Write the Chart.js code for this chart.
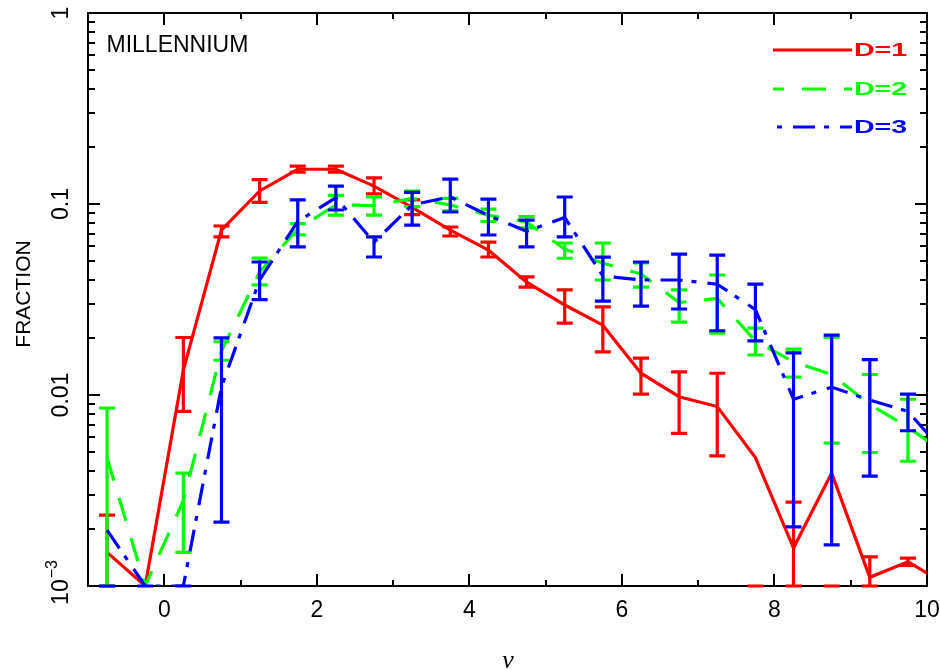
<!DOCTYPE html>
<html>
<head>
<meta charset="utf-8">
<title>FRACTION vs nu</title>
<script src="https://cdn.jsdelivr.net/npm/chart.js@4.4.0/dist/chart.umd.min.js"></script>
<style>
  html, body { margin: 0; padding: 0; background: #ffffff; }
  #wrap { width: 940px; height: 670px; }
</style>
</head>
<body>
<div id="wrap"><canvas id="chart" width="940" height="670"></canvas></div>
<script>
// Bin centres in nu (the last bin lies just past the right edge of the axis)
const nu = [-0.75, -0.25, 0.25, 0.75, 1.25, 1.75, 2.25, 2.75, 3.25, 3.75, 4.25, 4.75,
            5.25, 5.75, 6.25, 6.75, 7.25, 7.75, 8.25, 8.75, 9.25, 9.75, 10.25];

// D=1
const fracD1 = [0.0015, 0.001, 0.0135, 0.073, 0.117, 0.152, 0.152, 0.124, 0.096, 0.073, 0.0574, 0.039,
                0.0296, 0.0232, 0.0130, 0.0098, 0.0087, 0.0047, 0.00158, 0.0039, 0.00111, 0.00134, 0.00102];
// error bar ends; 0 = below the plotted range, null = no bar
const loD1 = [0, null, 0.0082, 0.0672, 0.102, 0.147, 0.147, 0.113, 0.088, 0.068, 0.0528, 0.0367,
              0.0238, 0.0168, 0.0101, 0.0063, 0.0048, 0, 0, 0, 0, 0.00128, null];
const hiD1 = [0.00235, null, 0.020, 0.0767, 0.134, 0.158, 0.158, 0.137, 0.105, 0.0758, 0.0632, 0.0415,
              0.0355, 0.0289, 0.0156, 0.0132, 0.0130, 0, 0.00275, 0, 0.00142, 0.0014, null];

// D=2
const fracD2 = [0.0047, 0.001, 0.0028, 0.017, 0.044, 0.074, 0.099, 0.098, 0.107, 0.099, 0.0875, 0.0805,
                0.058, 0.049, 0.043, 0.0305, 0.032, 0.0192, 0.0149, 0.0128, 0.0089, 0.0068, 0.0049];
const loD2 = [0, null, 0.0015, 0.0152, 0.0377, 0.069, 0.0875, 0.0875, 0.097, 0.092, 0.081, 0.075,
              0.052, 0.040, 0.0367, 0.0241, 0.0211, 0.0162, 0.0124, 0.0056, 0.0050, 0.0045, null];
const hiD2 = [0.00855, null, 0.0039, 0.0190, 0.0521, 0.079, 0.111, 0.1088, 0.117, 0.107, 0.094, 0.086,
              0.0625, 0.0625, 0.0491, 0.0355, 0.0425, 0.0224, 0.0174, 0.0200, 0.0128, 0.0095, null];

// D=3
const fracD3 = [0.00196, 0.001, 0.001, 0.011, 0.040, 0.081, 0.108, 0.063, 0.099, 0.109, 0.087, 0.072,
                0.085, 0.042, 0.040, 0.040, 0.038, 0.028, 0.0095, 0.011, 0.0094, 0.0082, 0.0049];
const loD3 = [0, 0, 0, 0.00216, 0.0316, 0.0597, 0.093, 0.0528, 0.0775, 0.0908, 0.0688, 0.0596,
              0.0672, 0.031, 0.0292, 0.0282, 0.0217, 0.0192, 0.00204, 0.00164, 0.00376, 0.0065, null];
const hiD3 = [0, 0, 0, 0.0199, 0.0497, 0.105, 0.124, 0.0672, 0.115, 0.135, 0.106, 0.0824,
              0.1088, 0.0527, 0.0497, 0.0547, 0.054, 0.0381, 0.0166, 0.0206, 0.0153, 0.0101, null];

// Axis ticks and labels
const xMajorTicks = [0, 2, 4, 6, 8, 10];
const xMinorTicks = [-1, 1, 3, 5, 7, 9];
const yDecades = [0.001, 0.01, 0.1, 1];
const yDecadeLabels = ['10', '0.01', '0.1', '1'];
const yMinorMultipliers = [2, 3, 4, 5, 6, 7, 8, 9];

const seriesLabels = ['D=1', 'D=2', 'D=3'];
const seriesColors = ['#ff0000', '#00ff00', '#0000ff'];
const seriesDashes = [[], [24, 18], [22, 9, 5, 11]];
const legendDashOffsets = [0, 13, 27];
const lowEnds = [loD1, loD2, loD3];
const highEnds = [hiD1, hiD2, hiD3];

const toPoints = (vals) => nu.map((x, i) => ({ x: x, y: vals[i] }));

const SANS = '"Liberation Sans", Arial, Helvetica, sans-serif';

// Frame, ticks and tick labels, drawn under the data
const framePlugin = {
  id: 'frame',
  beforeDatasetsDraw(chart) {
    const { ctx, chartArea: a, scales } = chart;
    const xs = scales.x, ys = scales.y;
    ctx.save();
    ctx.strokeStyle = '#000';
    ctx.lineWidth = 2;
    ctx.strokeRect(a.left, a.top, a.right - a.left, a.bottom - a.top);

    ctx.beginPath();
    const tickX = (v, len) => {
      const px = Math.round(xs.getPixelForValue(v));
      ctx.moveTo(px, a.bottom); ctx.lineTo(px, a.bottom - len);
      ctx.moveTo(px, a.top); ctx.lineTo(px, a.top + len);
    };
    xMajorTicks.forEach(v => tickX(v, 12));
    xMinorTicks.forEach(v => tickX(v, 6));
    const tickY = (v, len) => {
      const py = Math.round(ys.getPixelForValue(v));
      ctx.moveTo(a.left, py); ctx.lineTo(a.left + len, py);
      ctx.moveTo(a.right, py); ctx.lineTo(a.right - len, py);
    };
    yDecades.forEach(v => tickY(v, 12));
    yDecades.slice(0, -1).forEach(d => yMinorMultipliers.forEach(m => tickY(d * m, 7)));
    ctx.stroke();

    // x tick labels
    ctx.fillStyle = '#000';
    ctx.font = '23px ' + SANS;
    ctx.textAlign = 'center';
    ctx.textBaseline = 'top';
    xMajorTicks.forEach(v => ctx.fillText(String(v), xs.getPixelForValue(v), 599));

    // y tick labels, written upwards
    yDecades.forEach((v, i) => {
      const py = ys.getPixelForValue(v);
      ctx.save();
      ctx.translate(62, py);
      ctx.rotate(-Math.PI / 2);
      ctx.textBaseline = 'middle';
      if (i === 0) {
        ctx.font = '23px ' + SANS;
        const wBase = ctx.measureText(yDecadeLabels[i]).width;
        ctx.font = '16px ' + SANS;
        const wExp = ctx.measureText('\u22123').width;
        const start = -(wBase + wExp) / 2 + 3;
        ctx.textAlign = 'left';
        ctx.font = '23px ' + SANS;
        ctx.fillText(yDecadeLabels[i], start, 0);
        ctx.font = '16px ' + SANS;
        ctx.fillText('\u22123', start + wBase + 1, -9);
      } else {
        ctx.textAlign = 'center';
        ctx.font = '23px ' + SANS;
        ctx.fillText(yDecadeLabels[i], 0, 0);
      }
      ctx.restore();
    });

    // axis titles
    ctx.save();
    ctx.translate(24, 294);
    ctx.rotate(-Math.PI / 2);
    ctx.font = '21px ' + SANS;
    ctx.textAlign = 'center';
    ctx.textBaseline = 'middle';
    ctx.fillText('FRACTION', 0, 0);
    ctx.restore();

    ctx.font = 'italic 26px "Liberation Serif", "Times New Roman", serif';
    ctx.textAlign = 'center';
    ctx.textBaseline = 'alphabetic';
    ctx.fillText('\u03bd', 508, 668);

    ctx.font = '23px ' + SANS;
    ctx.textAlign = 'left';
    ctx.fillText('MILLENNIUM', 106.5, 52);
    ctx.restore();
  }
};

// Vertical error bars with caps, drawn right after each series' line
const errorBarPlugin = {
  id: 'errorBars',
  afterDatasetDraw(chart, args) {
    const i = args.index;
    const lo = lowEnds[i], hi = highEnds[i];
    const { ctx, chartArea: a, scales } = chart;
    const xs = scales.x, ys = scales.y;
    const yMin = ys.min;
    const py = (v) => ys.getPixelForValue(Math.max(v, yMin));
    ctx.save();
    ctx.beginPath();
    ctx.rect(a.left - 2, a.top - 2, a.right - a.left + 4, a.bottom - a.top + 4);
    ctx.clip();
    ctx.strokeStyle = seriesColors[i];
    ctx.lineWidth = 3.2;
    ctx.lineCap = 'butt';
    ctx.beginPath();
    nu.forEach((x, k) => {
      if (lo[k] === null || hi[k] === null) return;
      const px = xs.getPixelForValue(x);
      const y1 = py(lo[k]), y2 = py(hi[k]);
      ctx.moveTo(px, y1); ctx.lineTo(px, y2);
      ctx.moveTo(px - 8, y1); ctx.lineTo(px + 8, y1);
      ctx.moveTo(px - 8, y2); ctx.lineTo(px + 8, y2);
    });
    ctx.stroke();
    ctx.restore();
  }
};

// Key in the upper right corner
const keyPlugin = {
  id: 'key',
  afterDraw(chart) {
    const { ctx } = chart;
    const rows = [50, 89, 127];
    ctx.save();
    chart.data.datasets.forEach((ds, i) => {
      const y = rows[i];
      ctx.strokeStyle = ds.borderColor;
      ctx.lineWidth = 3.2;
      ctx.setLineDash(ds.borderDash);
      ctx.lineDashOffset = legendDashOffsets[i];
      ctx.beginPath();
      ctx.moveTo(773, y); ctx.lineTo(852, y);
      ctx.stroke();
      ctx.setLineDash([]);
      ctx.save();
      ctx.translate(854, y);
      ctx.scale(1.5, 1);
      ctx.fillStyle = ds.borderColor;
      ctx.font = 'bold 19px ' + SANS;
      ctx.textAlign = 'left';
      ctx.textBaseline = 'middle';
      ctx.fillText(ds.label, 0, 1);
      ctx.restore();
    });
    ctx.restore();
  }
};

const datasets = [fracD1, fracD2, fracD3].map((vals, i) => ({
  label: seriesLabels[i],
  data: toPoints(vals),
  borderColor: seriesColors[i],
  backgroundColor: seriesColors[i],
  borderWidth: 3.2,
  borderDash: seriesDashes[i],
  pointRadius: 0,
  tension: 0,
  fill: false,
  order: 3 - i
}));

new Chart(document.getElementById('chart'), {
  type: 'line',
  data: { datasets: datasets },
  options: {
    responsive: false,
    animation: false,
    devicePixelRatio: 1,
    layout: { padding: { left: 88, top: 13, right: 13, bottom: 84 } },
    plugins: { legend: { display: false }, tooltip: { enabled: false } },
    scales: {
      x: { type: 'linear', min: -1, max: 10, display: false },
      y: { type: 'logarithmic', min: 0.001, max: 1, display: false }
    }
  },
  plugins: [framePlugin, errorBarPlugin, keyPlugin]
});
</script>
</body>
</html>
